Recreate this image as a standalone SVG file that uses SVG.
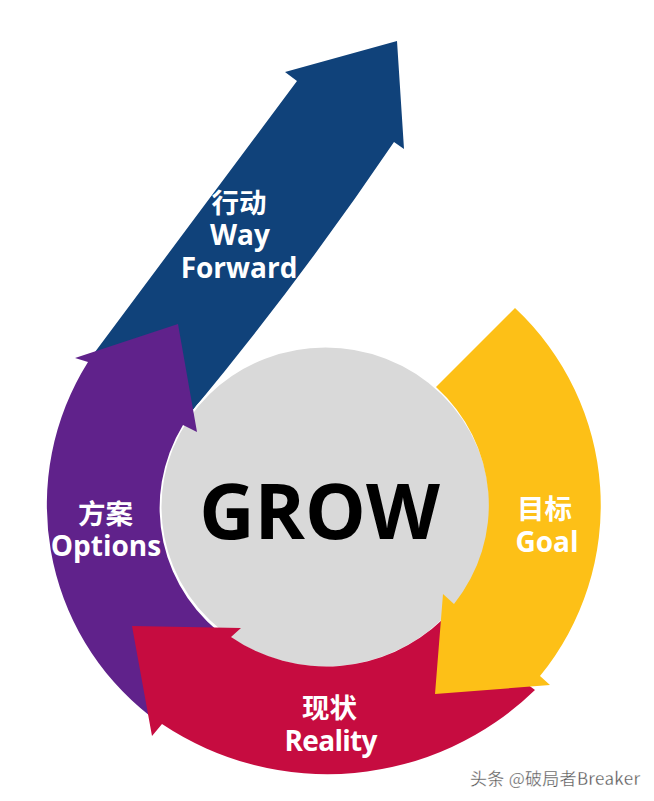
<svg xmlns="http://www.w3.org/2000/svg" width="654" height="801" viewBox="0 0 654 801">
<style>
.l{font-family:"Open Sans","Noto Sans CJK SC",sans-serif;font-weight:700;font-size:28px;fill:#fff;text-anchor:middle}
.c{font-family:"Noto Sans CJK SC",sans-serif;font-weight:700;font-size:27.500px;fill:#fff;text-anchor:middle}
</style>
<rect width="654" height="801" fill="#fff"/>
<g id="forward">
<path d="M397 41L285 72L297 81L95 352L193 410Q300 281 394 142L404 149Z" fill="#10427a"/>
<text class="c" x="239" y="213">行动</text>
<text class="l" x="240" y="245">Way</text>
<text class="l" x="239" y="278">Forward</text>
</g>
<g id="center">
<ellipse cx="325.500" cy="507" rx="165" ry="160.500" fill="#d9d9d9" stroke="#fff" stroke-width="2"/>
<text x="319.500" y="539" text-anchor="middle" font-family="'Open Sans',sans-serif" font-weight="700" font-size="76.500" fill="#000">GROW</text>
</g>
<g id="options">
<path d="M178 324L75 358L88 362A268 268 0 0 0 150 716L231 641A166 162 0 0 1 183 425L197 432Z" fill="#60228b"/>
<text class="c" x="105.500" y="524">方案</text>
<text class="l" x="106" y="556">Options</text>
</g>
<g id="reality">
<path d="M132 626L152 736L162 724A298 298 0 0 0 535 690L442 620A165 161 0 0 1 231 637L241 628Z" fill="#c60c40"/>
<text class="c" x="329.500" y="718">现状</text>
<text class="l" x="331" y="751" textLength="93">Reality</text>
</g>
<g id="goal">
<path d="M515 308A270 270 0 0 1 540 676L550 685L435 694L443 594L454 604A165 161 0 0 0 436 387Z" fill="#fdc017"/>
<text class="c" x="544.500" y="519">目标</text>
<text class="l" x="547" y="552">Goal</text>
</g>
<text id="watermark" x="470" y="785" font-family="'Noto Sans CJK SC',sans-serif" font-size="17" fill="#555" stroke="#fff" stroke-width="0.300" textLength="170">头条 @破局者Breaker</text>
</svg>
